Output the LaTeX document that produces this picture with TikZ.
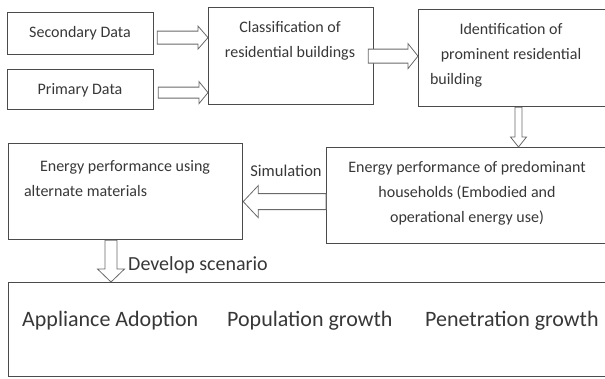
\documentclass[tikz,border=0pt]{standalone}
\usepackage{fontspec}
\setmainfont{Carlito}
\usetikzlibrary{calc, positioning}
\definecolor{boxColor}{RGB}{75, 75, 75}
\definecolor{arrowColor}{RGB}{105, 105, 105}
\definecolor{textColor}{RGB}{55, 55, 55}

% hollow block arrow between two points, any direction
\tikzset{
  shaft/.store in=\shaftw, barb/.store in=\barbw, headlen/.store in=\headl,
  shaft=6pt, barb=12pt, headlen=10pt,
  block/.style={draw=arrowColor, fill=white, line width=0.8pt, line join=miter,
    to path={let \p1=(\tikztostart), \p2=(\tikztotarget),
        \p3=($(\p2)!\headl!(\p1)$) in
      ($(\p1)!\shaftw!90:(\p2)$) -- ($(\p3)!\shaftw!-90:(\p1)$)
      -- ($(\p3)!\barbw!-90:(\p1)$) -- (\p2)
      -- ($(\p3)!\barbw!90:(\p1)$) -- ($(\p3)!\shaftw!90:(\p1)$)
      -- ($(\p1)!\shaftw!-90:(\p2)$) -- cycle}}
}

\begin{document}
\begin{tikzpicture}[
    x=1pt, y=-1pt,
    box/.style = {draw=boxColor, line width=1.2pt, anchor=north west,
        inner sep=0pt},
    txt/.style = {text=textColor, align=center, inner sep=0pt,
        font=\fontsize{16}{25}\selectfont},
    big/.style = {txt, font=\fontsize{22}{26}\selectfont}
  ]
  \useasboundingbox (0,0) rectangle (605,378);

  % boxes
  \node[box, minimum width=146pt, minimum height=42pt] (sec) at (7,12) {};
  \node[box, minimum width=146pt, minimum height=40pt] (pri) at (7,69) {};
  \node[box, minimum width=165pt, minimum height=97pt] (cls) at (208,7) {};
  \node[box, minimum width=200pt, minimum height=97pt] (idt) at (418,9) {};
  \node[box, minimum width=290pt, minimum height=96pt] (pred) at (326,147) {};
  \node[box, minimum width=234pt, minimum height=96pt] (alt) at (8,143) {};
  \node[box, minimum width=620pt, minimum height=94pt] (scen) at (8,282) {};

  % texts
  \node[txt] (sectxt) at (80,33) {Secondary Data};
  \node[txt] (pritxt) at (80,90) {Primary Data};
  \node[txt] (clstxt) at (290,40.5) {Classification of\\residential buildings};
  \node[txt] (idttxt) at (511,55)
    {Identification of\\prominent residential\\\makebox[162pt][l]{building}};
  \node[txt] (predtxt) at (467,193)
    {Energy performance of predominant\\households (Embodied and\\operational energy use)};
  \node[txt] (alttxt) at (125,178.5)
    {Energy performance using\\\makebox[202pt][l]{alternate materials}};
  \node[txt, font=\fontsize{16.5}{20}\selectfont] (sim) at (286,171) {Simulation};
  \node[txt, font=\fontsize{20}{24}\selectfont, anchor=west] (dev) at (128,265) {Develop scenario};
  \node[big, anchor=west] (app) at (22,321) {Appliance Adoption};
  \node[big, anchor=west] (pop) at (227,321) {Population growth};
  \node[big, anchor=west] (pen) at (425,321) {Penetration growth};

  % connectors
  \coordinate (secout) at ($(sec.east)+(3,4)$);
  \coordinate (priout) at ($(pri.east)+(4,3)$);
  \coordinate (clsout) at ($(cls.east)+(-6,0)$);
  \coordinate (idtout) at ($(idt.south west)+(100.5,0)$);
  \coordinate (predout) at ($(pred.west)+(0,6)$);
  \coordinate (altout) at ($(alt.south west)+(103,0)$);

  \draw[block, shaft=6.5pt, barb=11.5pt, headlen=10pt] (secout) to (secout -| cls.west);
  \draw[block, shaft=5.5pt, barb=11pt, headlen=9pt] (priout) to (priout -| cls.west);
  \draw[block, shaft=7pt, barb=12.5pt, headlen=10pt] (clsout) to (clsout -| idt.west);
  \draw[block, shaft=3.5pt, barb=8pt, headlen=10pt] (idtout) to (idtout |- pred.north);
  \draw[block, shaft=8pt, barb=16pt, headlen=15pt] (predout) to (predout -| alt.east);
  \draw[block, shaft=6pt, barb=13.5pt, headlen=13pt] (altout) to (altout |- scen.north);
\end{tikzpicture}
\end{document}
